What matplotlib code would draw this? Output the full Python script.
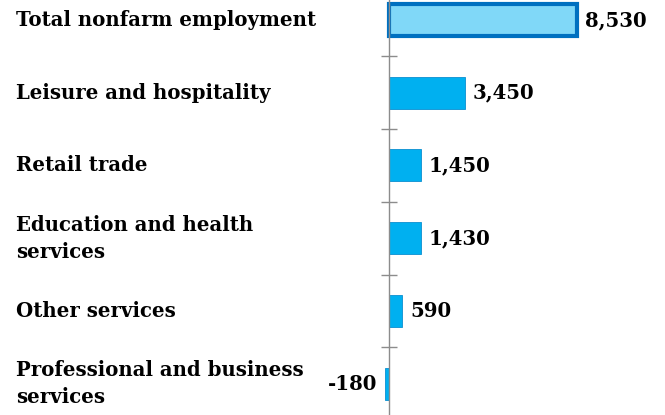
import numpy as np
import matplotlib
matplotlib.use('Agg')
from matplotlib import pyplot as plt
from matplotlib.transforms import blended_transform_factory

# Employment change by industry (thousands), top to bottom
categories = ['Total nonfarm employment',
              'Leisure and hospitality',
              'Retail trade',
              'Education and health\nservices',
              'Other services',
              'Professional and business\nservices']
values = [8530, 3450, 1450, 1430, 590, -180]
value_labels = ['8,530', '3,450', '1,450', '1,430', '590', '-180']

FONT = 'DejaVu Serif'
FS = 14.2

fig = plt.figure(figsize=(6.65, 4.15), dpi=100)
ax = fig.add_axes([0, 0, 1, 1])

y = np.arange(len(categories))
face = ['#80D8F8'] + ['#00B0F0'] * (len(values) - 1)
edge = ['#0070C0'] + ['#0A8FD0'] * (len(values) - 1)
lw = [3.0] + [0.6] * (len(values) - 1)
ax.barh(y, values, height=0.44, color=face, edgecolor=edge, linewidth=lw, zorder=2)

for s in ['top', 'right', 'bottom']:
    ax.spines[s].set_visible(False)
ax.spines['left'].set_position(('data', 0))
ax.spines['left'].set_color('#8C8C8C')
ax.spines['left'].set_linewidth(1.0)
ax.set_xticks([])
ax.set_yticks([])
ax.set_yticks(np.arange(len(categories) + 1) - 0.5, minor=True)
ax.tick_params(axis='y', which='minor', direction='inout', length=11,
               color='#8C8C8C', width=1.0, labelleft=False)

# pixel mapping: zero at x=389, 8530 at x=577 (of 665)
scale = (577 - 389) / 8530.0
ax.set_xlim(-389 / scale, (665 - 389) / scale)
ax.set_ylim(5.43, -0.275)

trans = blended_transform_factory(fig.transFigure, ax.transData)
for yi, cat in zip(y, categories):
    ax.text(16 / 665, yi, cat, transform=trans, ha='left', va='center',
            family=FONT, fontweight='bold', fontsize=FS, linespacing=1.45)

pad = 8 / scale
for yi, v, lab in zip(y, values, value_labels):
    if v >= 0:
        ax.text(v + pad, yi, lab, ha='left', va='center',
                family=FONT, fontweight='bold', fontsize=FS)
    else:
        ax.text(v - pad, yi, lab, ha='right', va='center',
                family=FONT, fontweight='bold', fontsize=FS)

fig.savefig('out.png', dpi=100)
